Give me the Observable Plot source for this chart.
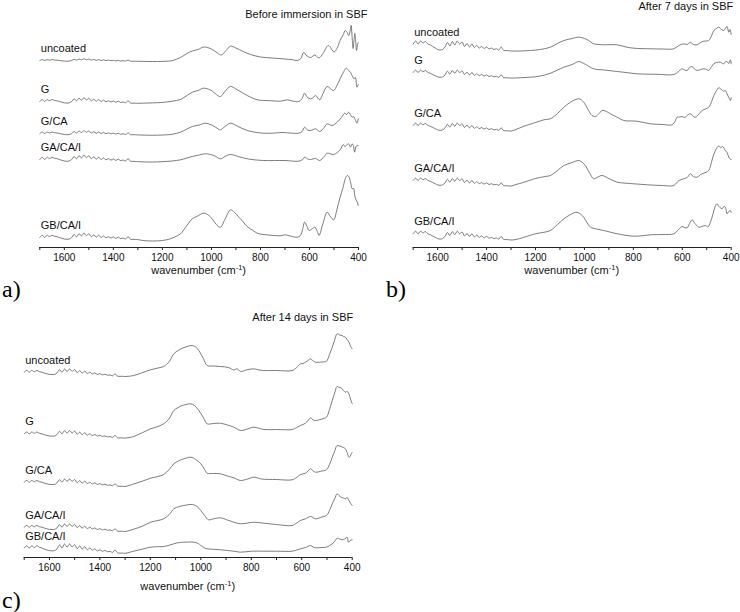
<!DOCTYPE html>
<html><head><meta charset="utf-8">
<script src="https://cdn.jsdelivr.net/npm/d3@7"></script>
<script src="https://cdn.jsdelivr.net/npm/@observablehq/plot@0.6"></script>
<style>
html,body{margin:0;padding:0;background:#fff;}
#fig{position:relative;width:740px;height:612px;overflow:hidden;font-family:"Liberation Sans",Arial,sans-serif;}
.panel{position:absolute;}
.tag{position:absolute;font-family:"Liberation Serif","Times New Roman",serif;font-size:24px;line-height:1;color:#000;}
</style></head><body><div id="fig"></div>
<script>
// ---------- data (absorbance, arbitrary offset units) ----------
const spectrumNames = ["uncoated", "G", "G/CA", "GA/CA/I", "GB/CA/I"];
const panelTitles = ["Before immersion in SBF", "After 7 days in SBF", "After 14 days in SBF"];
const panelTags = ["a)", "b)", "c)"];
const tickWavenumbers = [1700,1600,1500,1400,1300,1200,1100,1000,900,800,700,600,500,400];
const labelledTicks = [1600,1400,1200,1000,800,600,400];

// wavenumbers sampled in the noisy 1700-1300 cm-1 region
const noiseWave = [1700,1690,1680,1670,1660,1650,1640,1630,1620,1610,1600,1590,1580,1570,1560,1550,1540,1530,1520,1510,1500,1490,1480,1470,1460,1450,1440,1430,1420,1410,1400,1390,1380,1370,1360,1350,1340,1330,1320,1310,1300];

// ---- a) before immersion ----
const aUncoatedNoise = [187,187.9,187,187.9,187.3,187.9,187.5,187.3,187,186.7,186.4,186.3,186.4,187,188.2,187.3,188.5,187.6,188.8,187.7,188.5,187.3,188.1,187.1,187.9,187,187.6,186.9,187.4,186.8,187.2,186.6,187.1,186.5,186.8,186.4,187.4,186.3,186.3,186.2,186.2];
const aUncoatedBands = [[1260,186],[1220,186],[1190,186.2],[1160,186.8],[1126,190],[1100,194],[1078,196.5],[1055,198],[1030,200.5],[1000,198.5],[975,194.5],[960,192.5],[940,197],[922,201.3],[900,199.5],[870,196],[840,193],[800,190.5],[750,189.5],[700,188.5],[670,187.8],[650,187],[635,189],[624,195],[610,191.5],[595,190],[578,192.5],[562,189.5],[545,194],[523,202],[500,195.5],[488,199],[475,207],[462,213],[454,217],[446,215],[440,212],[433,218],[430,222],[426,210],[422,199],[418,208],[415,214],[411,205],[408,197],[404,203],[401,205]];
const aGNoise = [146,148,146,148,146.7,148,147,146.7,146,145.3,144.7,144.4,144.7,146,148.6,146.7,149.3,147.3,149.9,147.6,149.3,146.7,148.3,146.3,148,146,147.3,145.7,146.8,145.5,146.5,145.2,146.3,145,145.6,144.7,146.8,144.4,144.4,144.3,144.2];
const aGBands = [[1260,144.5],[1220,144.8],[1190,145.3],[1160,146.3],[1126,148],[1100,152],[1078,155.3],[1055,157],[1031,159.3],[1000,157],[980,153],[963,151],[945,156],[922,161],[900,158.5],[875,155],[854,152],[813,147.7],[760,146.8],[718,146.3],[691,147.7],[670,146.5],[644,146],[630,149],[620,154.3],[608,150],[595,148.7],[585,150],[575,152],[558,147.7],[545,154],[528,161],[510,158],[501,157],[488,162],[475,168.7],[460,176],[450,179.3],[440,177],[433,175.3],[426,172],[419,168.7],[413,170],[406,160.3],[401,163]];
const aGCANoise = [114,115.5,114,115.5,114.5,115.5,114.8,114.5,114,113.5,113,112.8,113,114,116,114.5,116.5,115,117,115.2,116.5,114.5,115.8,114.2,115.5,114,115,113.8,114.6,113.6,114.4,113.4,114.2,113.2,113.7,113,114.6,112.8,112.8,112.7,112.6];
const aGCABands = [[1260,112.3],[1220,112.3],[1190,112.6],[1160,113.2],[1126,115.3],[1100,118.5],[1078,121],[1050,122.5],[1025,124.3],[995,122],[975,119],[963,117.7],[945,121],[922,124.3],[895,121.5],[854,117],[788,114.3],[740,114.5],[708,115],[680,114.5],[644,114.3],[630,116],[620,120.3],[608,117.5],[595,117],[575,118.7],[558,116],[540,120],[528,123.7],[508,122],[487,125.3],[470,130],[456,134.3],[448,133],[440,135.3],[426,130.3],[420,131],[412,127],[406,124.3],[401,128.7]];
const aGACAINoise = [88,90.3,88,90.3,88.8,90.3,89.2,88.8,88,87.2,86.5,86.2,86.5,88,91,88.8,91.8,89.5,92.5,89.8,91.8,88.8,90.7,88.3,90.3,88,89.5,87.7,88.9,87.4,88.6,87.1,88.3,86.8,87.5,86.5,88.9,86.2,86.2,86,85.9];
const aGACAIBands = [[1260,85.5],[1220,85.6],[1190,86],[1160,86.5],[1126,87.7],[1100,89.5],[1078,91],[1050,92.5],[1025,93.7],[990,92],[963,88.7],[945,91],[922,93],[890,91],[854,88.7],[788,87],[700,87],[644,86.3],[628,88],[620,90.3],[605,88.3],[595,88],[575,89],[558,87],[540,91],[528,94.3],[501,93],[475,97.7],[462,103],[456,101],[450,102],[440,103.7],[433,100.3],[426,103.7],[420,101],[416,95.3],[410,101],[406,102],[401,102]];
const aGBCAINoise = [10,12.3,10,12.3,10.8,12.3,11.2,10.8,10,9.2,8.5,8.2,8.5,10,13,10.8,13.8,11.5,14.5,11.8,13.8,10.8,12.7,10.3,12.3,10,11.5,9.7,10.9,9.4,10.6,9.1,10.3,8.8,9.5,8.5,10.9,8.2,8.2,8,7.9];
const aGBCAIBands = [[1280,7],[1240,6.5],[1200,7],[1170,8.5],[1150,10.5],[1126,13.7],[1100,22],[1078,28.7],[1060,31],[1031,34.3],[1010,32],[997,28.7],[980,23],[963,20.3],[945,28],[922,37.7],[905,35],[888,30.3],[870,25.5],[854,21],[830,17],[813,14.3],[780,12.8],[745,12],[715,11.8],[698,12.7],[680,11.5],[650,10.3],[637,12],[628,18],[620,25.3],[610,21],[602,17],[590,18.5],[578,20.3],[568,16],[561,12],[545,24],[528,35.3],[515,31],[501,27.7],[488,38],[475,50.3],[463,60],[454,68.7],[446,72],[440,71],[433,66],[426,58.7],[420,59],[416,53],[412,48.7],[406,46],[401,42]];

// ---- b) after 7 days ----
const bUncoatedNoise = [203.5,206.5,203.5,206.5,204.5,206,203.5,202.5,201,199.5,198,197.5,198,200.5,205,201.5,206,202.5,206.5,203.5,205.5,201,204,200.5,203.5,200,202,199.5,201,199,200.5,198.5,199.5,198,198.8,197.5,200.5,197,197,196.8,196.5];
const bUncoatedBands = [[1260,196.5],[1220,197],[1180,198],[1139,200.3],[1110,204],[1084,207],[1050,209],[1023,210.3],[990,208],[962,203.7],[940,203],[921,202.7],[866,202.7],[830,200.5],[798,199.3],[730,198.7],[680,198.5],[635,198.7],[614,202],[594,203.7],[580,203],[567,205.3],[555,203],[539,202.7],[525,205],[512,206.3],[492,207],[480,212],[471,217],[460,219],[451,220.3],[440,218],[430,217],[424,219],[417,221],[410,215.3],[405,218],[400,213]];
const bGNoise = [175,177.4,175,177.4,175.8,177,175,174.2,173,171.8,170.6,170.2,170.6,172.6,176.2,173.4,177,174.2,177.4,175,176.6,173,175.4,172.6,175,172.2,173.8,171.8,173,171.4,172.6,171,171.8,170.6,171.2,170.2,172.6,169.8,169.8,169.6,169.4];
const bGBands = [[1260,169.8],[1220,170.3],[1180,171.5],[1139,174.3],[1110,177.5],[1084,180.3],[1050,183],[1023,186],[995,183],[962,178.7],[920,177.5],[866,176],[830,175],[785,173.7],[700,173.2],[635,173],[615,176],[601,178.7],[590,177.5],[580,177],[570,180],[560,181],[550,178.5],[539,177],[525,178],[512,178.7],[500,178],[492,177],[480,181],[471,183.7],[460,185],[444,185.3],[435,184],[430,183.7],[423,186],[417,186],[410,184],[403,187.7],[400,183.7]];
const bGCANoise = [122,124.4,122,124.4,122.8,124,122,121.2,120,118.8,117.6,117.2,117.6,119.6,123.2,120.4,124,121.2,124.4,122,123.6,120,122.4,119.6,122,119.2,120.8,118.8,120,118.4,119.6,118,118.8,117.6,118.2,117.2,119.6,116.8,116.8,116.6,116.4];
const bGCABands = [[1280,118],[1250,121],[1200,125],[1160,128],[1139,128.7],[1110,134],[1084,140.3],[1057,145.3],[1023,148.7],[1003,145.3],[985,138],[969,132],[955,131],[940,134],[928,137],[910,136],[894,133.7],[860,129.5],[839,127],[785,126.3],[730,123.7],[680,123],[642,122.7],[630,126],[621,130.3],[610,130.5],[601,131],[590,130],[580,132],[567,133.7],[555,131],[546,130.3],[530,134],[519,137],[505,138.5],[492,140.3],[480,146],[471,152],[460,157],[451,159.7],[440,158],[430,156.3],[424,157],[417,153.7],[410,150],[403,147],[400,150]];
const bGACAINoise = [67,69.4,67,69.4,67.8,69,67,66.2,65,63.8,62.6,62.2,62.6,64.6,68.2,65.4,69,66.2,69.4,67,68.6,65,67.4,64.6,67,64.2,65.8,63.8,65,63.4,64.6,63,63.8,62.6,63.2,62.2,64.6,61.8,61.8,61.6,61.4];
const bGACAIBands = [[1280,63],[1250,65],[1200,69],[1160,71],[1139,72],[1110,77],[1084,82],[1050,85],[1023,87],[1000,83],[980,75],[962,68.7],[945,70.5],[928,72],[900,69],[866,65.3],[830,64.3],[798,63.7],[730,62.5],[680,62],[635,62],[614,67],[594,68.7],[580,70],[567,73.7],[555,71],[539,70.3],[525,73],[512,74.3],[492,77],[480,86],[471,93.3],[460,99],[451,101.5],[442,100],[435,101],[424,97],[417,95],[410,90.3],[405,88.5],[400,88]];
const bGBCAINoise = [13.7,16.3,13.7,16.3,14.6,15.9,13.7,12.8,11.5,10.2,8.9,8.4,8.9,11.1,15,11.9,15.9,12.8,16.3,13.7,15.5,11.5,14.1,11.1,13.7,10.6,12.4,10.2,11.5,9.7,11.1,9.3,10.2,8.9,9.5,8.4,11.1,8,8,7.8,7.5];
const bGBCAIBands = [[1280,8],[1250,10],[1200,13.7],[1160,15.5],[1139,17],[1110,23],[1084,28.7],[1060,32.5],[1030,35.3],[1003,30.3],[990,25],[975,20.3],[950,18.5],[921,17],[866,13.7],[830,12.2],[798,11.3],[760,11.8],[730,12.7],[680,13],[635,13.7],[615,18],[601,21],[590,20],[580,19.7],[570,24],[560,27.7],[548,24],[533,20.3],[520,21],[505,22],[495,20.5],[485,25.3],[475,33],[464,42],[458,43.7],[450,41],[437,38.7],[430,41],[424,40.3],[417,33.7],[410,36],[403,37],[400,35]];

// ---- c) after 14 days ----
const cUncoatedNoise = [185.3,187.1,185.3,187.1,185.7,187.1,185.8,185.3,184.4,183.7,183.1,183,183.1,184.6,187.8,185.3,188.5,186,188.5,186.2,188,184.8,186.9,184.4,186.4,183.9,185.3,183.5,184.6,183,183.9,182.6,183.3,182.2,182.6,181.7,183.7,181.3,181.2,181.2,181];
const cUncoatedBands = [[1266,182],[1230,185],[1199,187.7],[1170,189.5],[1147,191],[1125,196],[1107,203.7],[1090,207],[1074,209.3],[1055,211],[1034,212],[1020,210.5],[1008,207],[990,199],[975,192],[950,191.5],[922,191],[890,190],[869,187.5],[856,188.7],[843,186],[820,187.5],[790,188.7],[770,187.5],[750,187],[700,187],[638,187],[620,190],[605,193.7],[595,194],[585,195.3],[575,197],[565,198.7],[555,196.5],[545,195.3],[520,195.5],[502,196.3],[490,203],[479,210.3],[470,217],[460,223.7],[450,222.5],[440,222],[434,221],[427,220.3],[420,218],[413,215.3],[406,211],[400,208.7]];
const cGNoise = [123.7,125.5,123.7,125.5,124.1,125.5,124.2,123.7,122.8,122.1,121.5,121.4,121.5,123,126.2,123.7,126.9,124.4,126.9,124.6,126.4,123.2,125.3,122.8,124.8,122.3,123.7,121.9,123,121.4,122.3,121,121.7,120.6,121,120.1,122.1,119.7,119.6,119.6,119.4];
const cGBands = [[1266,121],[1230,125],[1199,128.7],[1170,131],[1147,133.7],[1125,139],[1107,147],[1090,150],[1074,152],[1055,153.2],[1040,153.7],[1025,152],[1008,147],[990,140],[975,133.7],[950,134],[922,134.3],[895,132.5],[869,130.3],[843,127],[815,128.5],[790,130.3],[750,128],[700,128],[638,128],[620,130],[605,132],[585,134.3],[575,137],[565,139.7],[555,137.5],[545,137],[520,138.5],[502,140.3],[490,148],[479,157],[470,164],[460,171],[452,170],[444,169.7],[435,167],[427,165.3],[420,166],[413,163.7],[406,158],[400,153.7]];
const cGCANoise = [75.3,77.1,75.3,77.1,75.7,77.1,75.8,75.3,74.4,73.7,73.1,73,73.1,74.6,77.8,75.3,78.5,76,78.5,76.2,78,74.8,76.9,74.4,76.4,73.9,75.3,73.5,74.6,73,73.9,72.6,73.3,72.2,72.6,71.7,73.7,71.3,71.2,71.2,71];
const cGCABands = [[1266,73.5],[1230,76.5],[1199,79.3],[1170,81],[1147,83],[1125,88],[1107,93.7],[1085,97],[1067,98.7],[1040,100.3],[1020,98],[1000,93.7],[985,88],[975,84.3],[950,84],[922,83.7],[895,81.5],[869,79.7],[843,77],[815,78.5],[790,80.3],[760,78.5],[700,78],[638,77.7],[620,80],[605,83],[585,84.3],[575,86.5],[565,88.7],[555,86.5],[545,85.3],[520,86.5],[502,87.7],[490,93],[479,100.3],[470,106],[460,112],[452,111.5],[444,111],[435,110],[427,108.7],[420,105],[413,100.3],[408,101],[404,103.7],[400,105]];
const cGACAINoise = [30.3,32.1,30.3,32.1,30.7,32.1,30.8,30.3,29.4,28.7,28.1,28,28.1,29.6,32.8,30.3,33.5,31,33.5,31.2,33,29.8,31.9,29.4,31.4,28.9,30.3,28.5,29.6,28,28.9,27.6,28.3,27.2,27.6,26.7,28.7,26.3,26.2,26.2,26];
const cGACAIBands = [[1266,28.3],[1230,31.5],[1199,35.3],[1170,37],[1147,38.7],[1125,43],[1107,48.7],[1085,51],[1067,52],[1034,53],[1015,51],[1000,47],[985,42],[969,37.7],[945,39],[922,39.7],[895,37.5],[869,35.3],[843,33.7],[815,34.5],[790,35.3],[750,34.3],[700,33],[638,32],[620,34.5],[605,37],[585,38.7],[565,41],[545,38.7],[520,40.5],[502,42],[490,47],[479,53.7],[470,58.5],[460,63.7],[452,62],[444,60.3],[435,59.5],[427,58.7],[420,60],[413,57],[406,54],[400,52]];
const cGBCAINoise = [9.5,11.7,9.5,11.7,9.9,11.7,10.2,9.5,8.4,7.5,6.9,6.6,6.9,8.6,12.6,9.5,13.5,10.4,13.5,10.6,12.8,8.8,11.5,8.4,10.8,7.7,9.5,7.3,8.6,6.6,7.7,6.2,7.1,5.8,6.2,5.1,7.5,4.7,4.4,4.4,4.2];
const cGBCAIBands = [[1266,6.3],[1230,8.5],[1199,10.3],[1170,10.8],[1147,11],[1125,12.3],[1107,13.7],[1085,15],[1067,15.3],[1045,15.5],[1027,15.3],[1010,14],[1000,12],[985,9.5],[975,8.7],[950,8.2],[922,7.7],[895,7],[869,6.3],[843,5.3],[800,6.3],[750,6.3],[700,6.3],[638,6.3],[620,7.5],[605,8.7],[585,10],[565,12],[555,10.5],[545,9.7],[520,10],[502,10.3],[490,12],[479,13.7],[470,16],[460,19.3],[450,18.5],[440,17.7],[430,18.5],[420,20.3],[415,15.3],[408,17],[400,17.7]];

// ---------- build tables ----------
function spectrum(name, noise, bands) {
  const pts = noiseWave.map((w, i) => ({w, a: noise[i]}))
    .concat(bands.map(([w, a]) => ({w, a})));
  return {name, points: pts};
}
const panelData = [
  [spectrum(spectrumNames[0], aUncoatedNoise, aUncoatedBands), spectrum(spectrumNames[1], aGNoise, aGBands), spectrum(spectrumNames[2], aGCANoise, aGCABands), spectrum(spectrumNames[3], aGACAINoise, aGACAIBands), spectrum(spectrumNames[4], aGBCAINoise, aGBCAIBands)],
  [spectrum(spectrumNames[0], bUncoatedNoise, bUncoatedBands), spectrum(spectrumNames[1], bGNoise, bGBands), spectrum(spectrumNames[2], bGCANoise, bGCABands), spectrum(spectrumNames[3], bGACAINoise, bGACAIBands), spectrum(spectrumNames[4], bGBCAINoise, bGBCAIBands)],
  [spectrum(spectrumNames[0], cUncoatedNoise, cUncoatedBands), spectrum(spectrumNames[1], cGNoise, cGBands), spectrum(spectrumNames[2], cGCANoise, cGCABands), spectrum(spectrumNames[3], cGACAINoise, cGACAIBands), spectrum(spectrumNames[4], cGBCAINoise, cGBCAIBands)]
];

// ---------- layout ----------
const layouts = [
  {left: 0,   top: 0,   width: 380, ml: 39.3, mr: 22,   tdx: 9, tdy: 2.5, xt: 27, tagLeft: 2,   tagTop: 277},
  {left: 370, top: 0,   width: 370, ml: 42.7, mr: 9.3,  tdx: 2, tdy: -5.5, xt: 27, tagLeft: 386, tagTop: 277},
  {left: 0,   top: 310, width: 370, ml: 23.7, mr: 18.3, tdx: 1, tdy: -4.5, xt: 33, tagLeft: 2,   tagTop: 588}
];
const fig = document.getElementById("fig");
const MT = 7, PH = 240, H = 290;

layouts.forEach((L, k) => {
  const series = panelData[k];
  const chart = Plot.plot({
    width: L.width, height: H,
    marginLeft: L.ml, marginRight: L.mr, marginTop: MT, marginBottom: H - MT - PH,
    x: {domain: [1700, 400], axis: null},
    y: {domain: [0, 240], axis: null},
    style: {fontFamily: '"Liberation Sans", Arial, sans-serif', fontSize: "10px", color: "#111", background: "transparent", overflow: "visible"},
    marks: [
      ...series.map(s => Plot.line(s.points, {x: "w", y: "a", stroke: "#5a5a5a", strokeWidth: 0.8, curve: "catmull-rom"})),
      Plot.ruleY([0], {stroke: "#222", strokeWidth: 1}),
      Plot.axisX({ticks: tickWavenumbers, tickFormat: d => labelledTicks.includes(d) ? String(d) : "", tickSize: 3, tickPadding: 3, fontSize: 10, stroke: "#222", label: null}),
      Plot.text(series, {x: d => d.points[0].w, y: d => d.points[0].a, text: "name", textAnchor: "start", dx: 1, dy: -12, fontSize: 11, fill: "#111"}),
      Plot.text([panelTitles[k]], {text: d => d, frameAnchor: "top-right", dx: L.tdx, dy: L.tdy, fontSize: 11, fill: "#111"})
    ]
  });
  // axis title with superscript
  const svg = d3.select(chart);
  const t = svg.append("text")
    .attr("x", L.ml + (L.width - L.ml - L.mr) / 2)
    .attr("y", MT + PH + L.xt)
    .attr("text-anchor", "middle")
    .attr("font-size", 11)
    .attr("fill", "#111");
  t.append("tspan").text("wavenumber (cm");
  t.append("tspan").attr("dy", -4).attr("font-size", 7.5).text("-1");
  t.append("tspan").attr("dy", 4).text(")");
  chart.classList.add("panel");
  chart.style.left = L.left + "px";
  chart.style.top = L.top + "px";
  fig.appendChild(chart);
  const tag = document.createElement("div");
  tag.className = "tag";
  tag.textContent = panelTags[k];
  tag.style.left = L.tagLeft + "px";
  tag.style.top = L.tagTop + "px";
  fig.appendChild(tag);
});
</script></body></html>
